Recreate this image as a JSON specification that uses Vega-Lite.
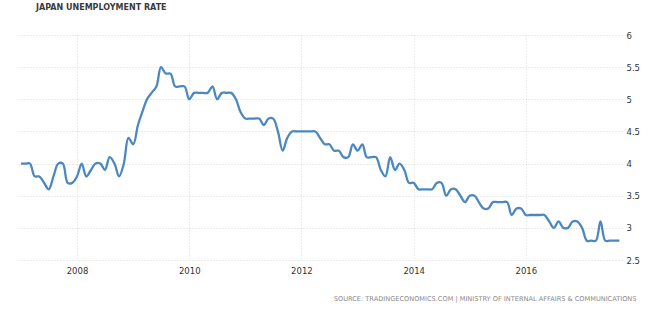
{
  "$schema": "https://vega.github.io/schema/vega-lite/v6.json",
  "width": 606,
  "height": 225,
  "autosize": "none",
  "padding": {"left": 16, "top": 35, "right": 38, "bottom": 49},
  "background": "white",
  "title": {
    "text": "JAPAN UNEMPLOYMENT RATE",
    "anchor": "start",
    "frame": "group",
    "dx": 20,
    "offset": 19,
    "font": "DejaVu Sans",
    "fontSize": 8,
    "fontWeight": "bold",
    "color": "#3a3a3a"
  },
  "config": {
    "view": {"stroke": null},
    "axis": {
      "labelFont": "DejaVu Sans",
      "labelFontSize": 8.5,
      "labelColor": "#333333",
      "gridColor": "#d9d9d9",
      "gridDash": [1, 2],
      "gridWidth": 1,
      "domain": false,
      "ticks": false
    }
  },
  "data": {
    "values": [
      {"date": "2007-01-01", "rate": 4.0}, {"date": "2007-02-01", "rate": 4.0}, {"date": "2007-03-01", "rate": 4.0}, {"date": "2007-04-01", "rate": 3.8}, {"date": "2007-05-01", "rate": 3.8}, {"date": "2007-06-01", "rate": 3.7}, {"date": "2007-07-01", "rate": 3.6}, {"date": "2007-08-01", "rate": 3.8}, {"date": "2007-09-01", "rate": 4.0}, {"date": "2007-10-01", "rate": 4.0}, {"date": "2007-11-01", "rate": 3.7}, {"date": "2007-12-01", "rate": 3.7},
      {"date": "2008-01-01", "rate": 3.8}, {"date": "2008-02-01", "rate": 4.0}, {"date": "2008-03-01", "rate": 3.8}, {"date": "2008-04-01", "rate": 3.9}, {"date": "2008-05-01", "rate": 4.0}, {"date": "2008-06-01", "rate": 4.0}, {"date": "2008-07-01", "rate": 3.9}, {"date": "2008-08-01", "rate": 4.1}, {"date": "2008-09-01", "rate": 4.0}, {"date": "2008-10-01", "rate": 3.8}, {"date": "2008-11-01", "rate": 4.0}, {"date": "2008-12-01", "rate": 4.4},
      {"date": "2009-01-01", "rate": 4.3}, {"date": "2009-02-01", "rate": 4.6}, {"date": "2009-03-01", "rate": 4.8}, {"date": "2009-04-01", "rate": 5.0}, {"date": "2009-05-01", "rate": 5.1}, {"date": "2009-06-01", "rate": 5.2}, {"date": "2009-07-01", "rate": 5.5}, {"date": "2009-08-01", "rate": 5.4}, {"date": "2009-09-01", "rate": 5.4}, {"date": "2009-10-01", "rate": 5.2}, {"date": "2009-11-01", "rate": 5.2}, {"date": "2009-12-01", "rate": 5.2},
      {"date": "2010-01-01", "rate": 5.0}, {"date": "2010-02-01", "rate": 5.1}, {"date": "2010-03-01", "rate": 5.1}, {"date": "2010-04-01", "rate": 5.1}, {"date": "2010-05-01", "rate": 5.1}, {"date": "2010-06-01", "rate": 5.2}, {"date": "2010-07-01", "rate": 5.0}, {"date": "2010-08-01", "rate": 5.1}, {"date": "2010-09-01", "rate": 5.1}, {"date": "2010-10-01", "rate": 5.1}, {"date": "2010-11-01", "rate": 5.0}, {"date": "2010-12-01", "rate": 4.8},
      {"date": "2011-01-01", "rate": 4.7}, {"date": "2011-02-01", "rate": 4.7}, {"date": "2011-03-01", "rate": 4.7}, {"date": "2011-04-01", "rate": 4.7}, {"date": "2011-05-01", "rate": 4.6}, {"date": "2011-06-01", "rate": 4.7}, {"date": "2011-07-01", "rate": 4.7}, {"date": "2011-08-01", "rate": 4.5}, {"date": "2011-09-01", "rate": 4.2}, {"date": "2011-10-01", "rate": 4.4}, {"date": "2011-11-01", "rate": 4.5}, {"date": "2011-12-01", "rate": 4.5},
      {"date": "2012-01-01", "rate": 4.5}, {"date": "2012-02-01", "rate": 4.5}, {"date": "2012-03-01", "rate": 4.5}, {"date": "2012-04-01", "rate": 4.5}, {"date": "2012-05-01", "rate": 4.4}, {"date": "2012-06-01", "rate": 4.3}, {"date": "2012-07-01", "rate": 4.3}, {"date": "2012-08-01", "rate": 4.2}, {"date": "2012-09-01", "rate": 4.2}, {"date": "2012-10-01", "rate": 4.1}, {"date": "2012-11-01", "rate": 4.1}, {"date": "2012-12-01", "rate": 4.3},
      {"date": "2013-01-01", "rate": 4.2}, {"date": "2013-02-01", "rate": 4.3}, {"date": "2013-03-01", "rate": 4.1}, {"date": "2013-04-01", "rate": 4.1}, {"date": "2013-05-01", "rate": 4.1}, {"date": "2013-06-01", "rate": 3.9}, {"date": "2013-07-01", "rate": 3.8}, {"date": "2013-08-01", "rate": 4.1}, {"date": "2013-09-01", "rate": 3.9}, {"date": "2013-10-01", "rate": 4.0}, {"date": "2013-11-01", "rate": 3.9}, {"date": "2013-12-01", "rate": 3.7},
      {"date": "2014-01-01", "rate": 3.7}, {"date": "2014-02-01", "rate": 3.6}, {"date": "2014-03-01", "rate": 3.6}, {"date": "2014-04-01", "rate": 3.6}, {"date": "2014-05-01", "rate": 3.6}, {"date": "2014-06-01", "rate": 3.7}, {"date": "2014-07-01", "rate": 3.7}, {"date": "2014-08-01", "rate": 3.5}, {"date": "2014-09-01", "rate": 3.6}, {"date": "2014-10-01", "rate": 3.6}, {"date": "2014-11-01", "rate": 3.5}, {"date": "2014-12-01", "rate": 3.4},
      {"date": "2015-01-01", "rate": 3.5}, {"date": "2015-02-01", "rate": 3.5}, {"date": "2015-03-01", "rate": 3.4}, {"date": "2015-04-01", "rate": 3.3}, {"date": "2015-05-01", "rate": 3.3}, {"date": "2015-06-01", "rate": 3.4}, {"date": "2015-07-01", "rate": 3.4}, {"date": "2015-08-01", "rate": 3.4}, {"date": "2015-09-01", "rate": 3.4}, {"date": "2015-10-01", "rate": 3.2}, {"date": "2015-11-01", "rate": 3.3}, {"date": "2015-12-01", "rate": 3.3},
      {"date": "2016-01-01", "rate": 3.2}, {"date": "2016-02-01", "rate": 3.2}, {"date": "2016-03-01", "rate": 3.2}, {"date": "2016-04-01", "rate": 3.2}, {"date": "2016-05-01", "rate": 3.2}, {"date": "2016-06-01", "rate": 3.1}, {"date": "2016-07-01", "rate": 3.0}, {"date": "2016-08-01", "rate": 3.1}, {"date": "2016-09-01", "rate": 3.0}, {"date": "2016-10-01", "rate": 3.0}, {"date": "2016-11-01", "rate": 3.1}, {"date": "2016-12-01", "rate": 3.1},
      {"date": "2017-01-01", "rate": 3.0}, {"date": "2017-02-01", "rate": 2.8}, {"date": "2017-03-01", "rate": 2.8}, {"date": "2017-04-01", "rate": 2.8}, {"date": "2017-05-01", "rate": 3.1}, {"date": "2017-06-01", "rate": 2.8}, {"date": "2017-07-01", "rate": 2.8}, {"date": "2017-08-01", "rate": 2.8}, {"date": "2017-09-01", "rate": 2.8}
    ]
  },
  "mark": {"type": "line", "interpolate": "catmull-rom", "color": "#4b87c1", "strokeWidth": 2.3},
  "encoding": {
    "x": {
      "field": "date",
      "type": "temporal",
      "scale": {
        "type": "utc",
        "domain": [
          {"year": 2006, "month": 11, "date": 30, "utc": true},
          {"year": 2017, "month": 9, "date": 18, "utc": true}
        ]
      },
      "axis": {
        "values": [
          {"year": 2008, "month": 1, "date": 1, "utc": true},
          {"year": 2010, "month": 1, "date": 1, "utc": true},
          {"year": 2012, "month": 1, "date": 1, "utc": true},
          {"year": 2014, "month": 1, "date": 1, "utc": true},
          {"year": 2016, "month": 1, "date": 1, "utc": true}
        ],
        "format": "%Y",
        "labelPadding": 6,
        "title": "SOURCE: TRADINGECONOMICS.COM | MINISTRY OF INTERNAL AFFAIRS & COMMUNICATIONS",
        "titleFont": "DejaVu Sans",
        "titleFontSize": 6.6,
        "titleFontWeight": "normal",
        "titleColor": "#8a8a8a",
        "titleAnchor": "end",
        "titleAlign": "right",
        "titleBaseline": "alphabetic",
        "titleX": 620,
        "titleY": 40
      }
    },
    "y": {
      "field": "rate",
      "type": "quantitative",
      "scale": {"domain": [2.5, 6], "nice": false, "zero": false},
      "axis": {
        "orient": "right",
        "values": [2.5, 3, 3.5, 4, 4.5, 5, 5.5, 6],
        "format": "~g",
        "labelPadding": 4,
        "title": null
      }
    }
  }
}
